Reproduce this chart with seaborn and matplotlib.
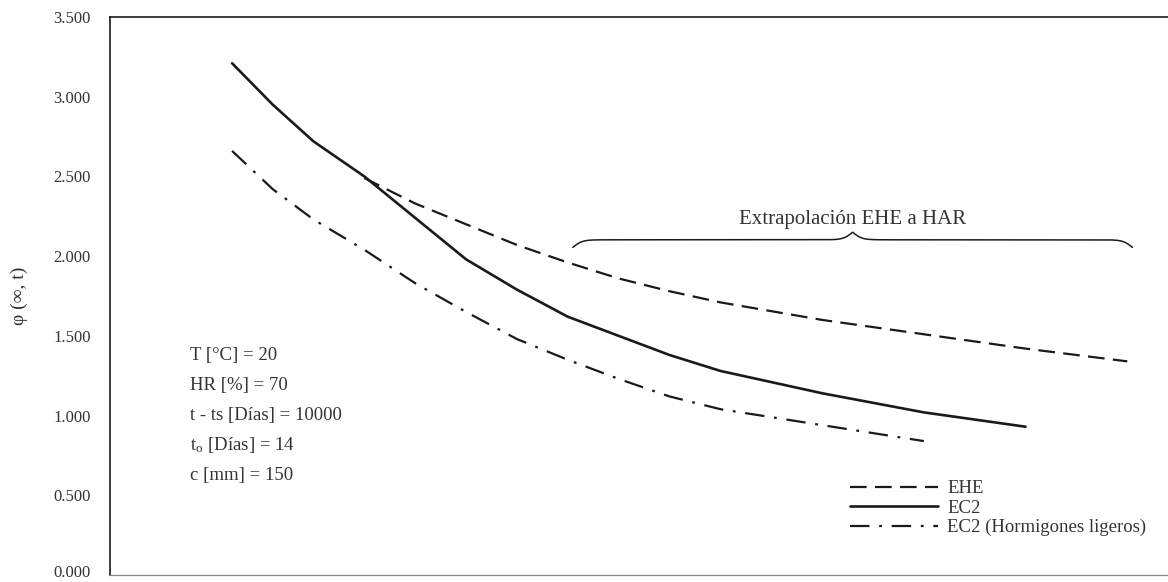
import numpy as np
import matplotlib
matplotlib.use("Agg")
import matplotlib.pyplot as plt
import matplotlib.transforms as mtransforms
import seaborn as sns

# characteristic strength (MPa) and creep coefficient phi(inf, t)
fck_ec2 = [12, 16, 20, 25, 30, 35, 40, 45, 50, 55, 60, 70, 80, 90]
phi_ec2 = [3.21, 2.95, 2.72, 2.50, 2.24, 1.98, 1.79, 1.62, 1.50, 1.38, 1.28, 1.14, 1.02, 0.93]

fck_ehe = [25, 30, 35, 40, 45, 50, 55, 60, 70, 80, 90, 100]
phi_ehe = [2.49, 2.33, 2.20, 2.07, 1.96, 1.86, 1.78, 1.71, 1.60, 1.51, 1.42, 1.34]

fck_lig = [12, 16, 20, 25, 30, 35, 40, 45, 50, 55, 60, 70, 80]
phi_lig = [2.66, 2.42, 2.23, 2.04, 1.83, 1.65, 1.48, 1.35, 1.23, 1.12, 1.04, 0.94, 0.84]

series_labels = ["EHE", "EC2", "EC2 (Hormigones ligeros)"]
y_ticks = [0.0, 0.5, 1.0, 1.5, 2.0, 2.5, 3.0, 3.5]

params_text = ["T [°C] = 20", "HR [%] = 70", "t - ts [Días] = 10000",
               "t$_{\\mathregular{o}}$ [Días] = 14", "c [mm] = 150"]
brace_range = (45.5, 100.5)
brace_label = "Extrapolación EHE a HAR"

sns.set_theme(style="white")
plt.rcParams["font.family"] = ["Liberation Serif", "DejaVu Serif"]
plt.rcParams["mathtext.fontset"] = "stix"
plt.rcParams["lines.scale_dashes"] = False

ink = "#1a1a1a"
fig = plt.figure(figsize=(11.68, 5.82), dpi=100)
ax = fig.add_axes([110 / 1168, 7 / 582, 1058 / 1168, 558 / 582])

sns.lineplot(x=fck_ehe, y=phi_ehe, ax=ax, color=ink, lw=1.6,
             linestyle=(0, (12, 6)), label=series_labels[0])
sns.lineplot(x=fck_ec2, y=phi_ec2, ax=ax, color=ink, lw=1.9,
             linestyle="-", label=series_labels[1])
sns.lineplot(x=fck_lig, y=phi_lig, ax=ax, color=ink, lw=1.6,
             linestyle=(0, (14, 7, 2, 7)), label=series_labels[2])

ax.set_xlim(0, 104.0)
ax.set_ylim(0, 3.5)
ax.set_xticks([])
ax.set_yticks(y_ticks)
ax.set_yticklabels([f"{v:.3f}" for v in y_ticks], fontsize=12, color="#333333")
ax.tick_params(axis="y", length=0, pad=14)
# keep the lowest label inside the picture
lab0 = ax.get_yticklabels()[0]
lab0.set_transform(lab0.get_transform() +
                   mtransforms.ScaledTranslation(0, 3 / 72, fig.dpi_scale_trans))
ax.set_ylabel("φ (∞, t)", fontsize=14, color="#333333", labelpad=18)

for side in ["left", "top"]:
    ax.spines[side].set_color(ink)
    ax.spines[side].set_linewidth(1.2)
ax.spines["bottom"].set_color("#888888")
ax.spines["bottom"].set_linewidth(0.9)
ax.spines["right"].set_visible(False)

# parameter block
for i, t in enumerate(params_text):
    ax.text(7.9, 1.375 - i * 0.1875, t, fontsize=13.5, color="#333333", va="center")

# curly brace over the extrapolated part
x0, x1 = brace_range
xs = np.linspace(x0, x1, 401)
half = xs[:201]
beta = 2.2
yh = 1 / (1 + np.exp(-beta * (half - half[0]))) + 1 / (1 + np.exp(-beta * (half - half[-1])))
yb = np.concatenate([yh, yh[-2::-1]])
ax.plot(xs, 2.055 + 0.095 * (yb - 0.5), color=ink, lw=1.1)
ax.text((x0 + x1) / 2, 2.23, brace_label, fontsize=15, color="#333333",
        ha="center", va="center")

leg = ax.legend(loc="upper left", bbox_to_anchor=(0.699, 0.17), frameon=False,
                fontsize=13.5, handlelength=4.7, handletextpad=0.5,
                labelspacing=0.12, borderpad=0, borderaxespad=0)
for txt in leg.get_texts():
    txt.set_color("#333333")

fig.savefig("out.png", dpi=100)
